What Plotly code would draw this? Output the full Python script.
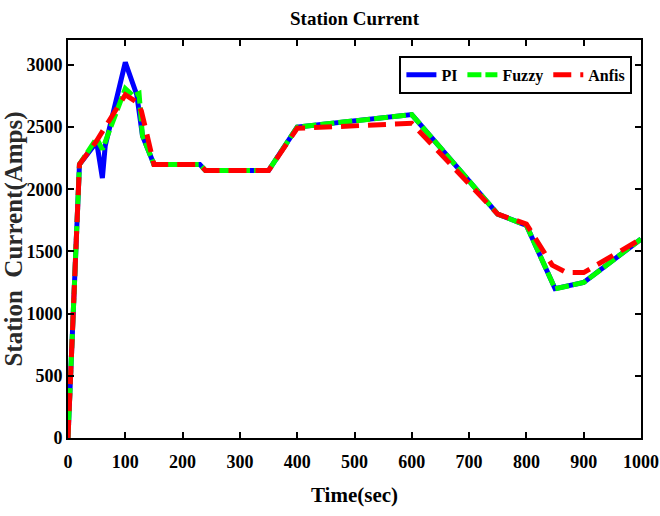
import plotly.graph_objects as go

# Data
pi_t = [0, 20, 50, 60, 65, 100, 120, 130, 150, 230, 240, 350, 400, 600, 750, 800, 850, 900, 1000]
pi_y = [0, 2200, 2380, 2090, 2350, 3020, 2760, 2430, 2200, 2200, 2150, 2150, 2500, 2600, 1800, 1710, 1200, 1250, 1600]

fuzzy_t = [0, 20, 50, 60, 100, 114, 124, 130, 150, 230, 240, 350, 400, 600, 750, 800, 850, 900, 1000]
fuzzy_y = [0, 2200, 2410, 2320, 2810, 2750, 2770, 2430, 2200, 2200, 2150, 2150, 2500, 2600, 1800, 1710, 1200, 1250, 1600]

anfis_t = [0, 20, 50, 100, 120, 128, 150, 230, 240, 350, 400, 600, 750, 800, 845, 870, 900, 1000]
anfis_y = [0, 2200, 2390, 2760, 2700, 2630, 2200, 2200, 2150, 2150, 2490, 2530, 1800, 1720, 1390, 1330, 1330, 1600]

x_ticks = [0, 100, 200, 300, 400, 500, 600, 700, 800, 900, 1000]
y_ticks = [0, 500, 1000, 1500, 2000, 2500, 3000]

FONT = "Liberation Serif"

fig = go.Figure()
fig.add_trace(go.Scatter(x=pi_t, y=pi_y, mode="lines", name="PI",
                         line=dict(color="#0000ff", width=5)))
fig.add_trace(go.Scatter(x=fuzzy_t, y=fuzzy_y, mode="lines", name="Fuzzy",
                         line=dict(color="#00ff00", width=5, dash="14px,4px")))
fig.add_trace(go.Scatter(x=anfis_t, y=anfis_y, mode="lines", name="Anfis",
                         line=dict(color="#ff0000", width=5, dash="18px,9px")))

axis_common = dict(
    showline=True, linecolor="black", linewidth=2, mirror="ticks",
    ticks="inside", ticklen=6, tickwidth=2, tickcolor="black",
    showgrid=False, zeroline=False, automargin=False,
    tickfont=dict(family=FONT, size=18, color="black", weight="bold"),
)

fig.update_layout(
    width=660, height=516,
    margin=dict(l=68, r=19, t=40, b=78),
    paper_bgcolor="white", plot_bgcolor="white",
    title=dict(text="<b>Station Current</b>", x=(68 + 641) / 2 / 660, xanchor="center",
               y=0.965, yanchor="middle",
               font=dict(family=FONT, size=19, color="black")),
    xaxis=dict(range=[0, 1000], tickvals=x_ticks, ticklabelstandoff=6,
               title=dict(text="<b>Time(sec)</b>", font=dict(family=FONT, size=21, color="black"),
                          standoff=17),
               **axis_common),
    yaxis=dict(range=[0, 3200], tickvals=y_ticks,
               title=dict(text="<b>Station  Current(Amps)</b>",
                          font=dict(family=FONT, size=25, color="#2a2a2a"), standoff=2),
               **axis_common),
    legend=dict(orientation="h", x=0.985, y=0.96, xanchor="right", yanchor="top",
                bordercolor="black", borderwidth=2, bgcolor="white",
                font=dict(family=FONT, size=16, color="black", weight="bold"),
                itemwidth=30, tracegroupgap=0),
    showlegend=True,
)

fig.write_html("out.html")
